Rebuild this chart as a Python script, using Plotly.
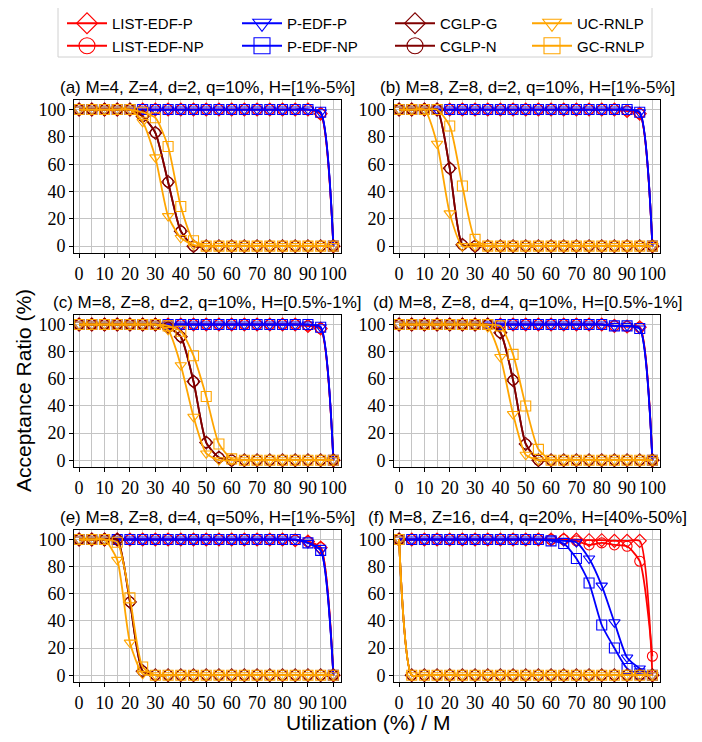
import plotly.graph_objects as go

# ---------------- data ----------------
utilization = [0, 5, 10, 15, 20, 25, 30, 35, 40, 45, 50, 55, 60, 65, 70, 75, 80, 85, 90, 95, 100]
x_tick_vals = [0, 10, 20, 30, 40, 50, 60, 70, 80, 90, 100]
x_tick_text = ["0", "10", "20", "30", "40", "50", "60", "70", "80", "90", "100"]
y_tick_vals = [0, 20, 40, 60, 80, 100]
y_tick_text = ["0", "20", "40", "60", "80", "100"]

series_names = ["LIST-EDF-P", "LIST-EDF-NP", "P-EDF-P", "P-EDF-NP", "CGLP-G", "CGLP-N", "UC-RNLP", "GC-RNLP"]

subplot_titles = [
    "(a) M=4, Z=4, d=2, q=10%, H=[1%-5%]",
    "(b) M=8, Z=8, d=2, q=10%, H=[1%-5%]",
    "(c) M=8, Z=8, d=2, q=10%, H=[0.5%-1%]",
    "(d) M=8, Z=8, d=4, q=10%, H=[0.5%-1%]",
    "(e) M=8, Z=8, d=4, q=50%, H=[1%-5%]",
    "(f) M=8, Z=16, d=4, q=20%, H=[40%-50%]",
]

# (a)
list_edf_p_a = [100, 100, 100, 100, 100, 100, 100, 100, 100, 100, 100, 100, 100, 100, 100, 100, 100, 100, 100, 97, 0]
list_edf_np_a = [100, 100, 100, 100, 100, 100, 100, 100, 100, 100, 100, 100, 100, 100, 100, 100, 100, 100, 100, 97, 0]
p_edf_p_a = [100, 100, 100, 100, 100, 100, 100, 100, 100, 100, 100, 100, 100, 100, 100, 100, 100, 100, 100, 98, 0]
p_edf_np_a = [100, 100, 100, 100, 100, 100, 100, 100, 100, 100, 100, 100, 100, 100, 100, 100, 100, 100, 100, 98, 0]
cglp_g_a = [100, 100, 100, 100, 100, 95, 83, 47, 11, 0, 0, 0, 0, 0, 0, 0, 0, 0, 0, 0, 0]
cglp_n_a = [100, 100, 100, 100, 100, 95, 83, 47, 11, 0, 0, 0, 0, 0, 0, 0, 0, 0, 0, 0, 0]
uc_rnlp_a = [100, 100, 100, 100, 100, 91, 65, 22, 6, 1, 0, 0, 0, 0, 0, 0, 0, 0, 0, 0, 0]
gc_rnlp_a = [100, 100, 100, 100, 100, 98, 94, 73, 29, 4, 0, 0, 0, 0, 0, 0, 0, 0, 0, 0, 0]

# (b)
list_edf_p_b = [100, 100, 100, 100, 100, 100, 100, 100, 100, 100, 100, 100, 100, 100, 100, 100, 100, 100, 99, 97, 0]
list_edf_np_b = [100, 100, 100, 100, 100, 100, 100, 100, 100, 100, 100, 100, 100, 100, 100, 100, 100, 100, 99, 97, 0]
p_edf_p_b = [100, 100, 100, 100, 100, 100, 100, 100, 100, 100, 100, 100, 100, 100, 100, 100, 100, 100, 100, 98, 0]
p_edf_np_b = [100, 100, 100, 100, 100, 100, 100, 100, 100, 100, 100, 100, 100, 100, 100, 100, 100, 100, 100, 98, 0]
cglp_g_b = [100, 100, 100, 100, 57, 1, 0, 0, 0, 0, 0, 0, 0, 0, 0, 0, 0, 0, 0, 0, 0]
cglp_n_b = [100, 100, 100, 100, 57, 1, 0, 0, 0, 0, 0, 0, 0, 0, 0, 0, 0, 0, 0, 0, 0]
uc_rnlp_b = [100, 100, 100, 75, 24, 0, 0, 0, 0, 0, 0, 0, 0, 0, 0, 0, 0, 0, 0, 0, 0]
gc_rnlp_b = [100, 100, 100, 100, 88, 44, 5, 0, 0, 0, 0, 0, 0, 0, 0, 0, 0, 0, 0, 0, 0]

# (c)
list_edf_p_c = [100, 100, 100, 100, 100, 100, 100, 100, 100, 100, 100, 100, 100, 100, 100, 100, 100, 100, 99, 97, 0]
list_edf_np_c = [100, 100, 100, 100, 100, 100, 100, 100, 100, 100, 100, 100, 100, 100, 100, 100, 100, 100, 99, 97, 0]
p_edf_p_c = [100, 100, 100, 100, 100, 100, 100, 100, 100, 100, 100, 100, 100, 100, 100, 100, 100, 100, 100, 98, 0]
p_edf_np_c = [100, 100, 100, 100, 100, 100, 100, 100, 100, 100, 100, 100, 100, 100, 100, 100, 100, 100, 100, 98, 0]
cglp_g_c = [100, 100, 100, 100, 100, 100, 100, 98, 91, 58, 13, 2, 0, 0, 0, 0, 0, 0, 0, 0, 0]
cglp_n_c = [100, 100, 100, 100, 100, 100, 100, 98, 91, 58, 13, 2, 0, 0, 0, 0, 0, 0, 0, 0, 0]
uc_rnlp_c = [100, 100, 100, 100, 100, 100, 100, 96, 70, 32, 5, 0, 0, 0, 0, 0, 0, 0, 0, 0, 0]
gc_rnlp_c = [100, 100, 100, 100, 100, 100, 100, 99, 95, 77, 47, 12, 1, 0, 0, 0, 0, 0, 0, 0, 0]

# (d)
list_edf_p_d = [100, 100, 100, 100, 100, 100, 100, 100, 100, 100, 100, 100, 100, 100, 100, 100, 100, 99, 98.5, 98, 0]
list_edf_np_d = [100, 100, 100, 100, 100, 100, 100, 100, 100, 100, 100, 100, 100, 100, 100, 100, 100, 99, 98.5, 98, 0]
p_edf_p_d = [100, 100, 100, 100, 100, 100, 100, 100, 100, 100, 100, 100, 100, 100, 100, 100, 100, 99, 99, 97, 0]
p_edf_np_d = [100, 100, 100, 100, 100, 100, 100, 100, 100, 100, 100, 100, 100, 100, 100, 100, 100, 99, 99, 97, 0]
cglp_g_d = [100, 100, 100, 100, 100, 100, 100, 100, 94, 59, 12, 0, 0, 0, 0, 0, 0, 0, 0, 0, 0]
cglp_n_d = [100, 100, 100, 100, 100, 100, 100, 100, 94, 59, 12, 0, 0, 0, 0, 0, 0, 0, 0, 0, 0]
uc_rnlp_d = [100, 100, 100, 100, 100, 100, 100, 98, 76, 34, 4, 0, 0, 0, 0, 0, 0, 0, 0, 0, 0]
gc_rnlp_d = [100, 100, 100, 100, 100, 100, 100, 100, 99, 78, 40, 8, 0, 0, 0, 0, 0, 0, 0, 0, 0]

# (e)
list_edf_p_e = [100, 100, 100, 100, 100, 100, 100, 100, 100, 100, 100, 100, 100, 100, 100, 100, 100, 99.5, 98.5, 94, 0]
list_edf_np_e = [100, 100, 100, 100, 100, 100, 100, 100, 100, 100, 100, 100, 100, 100, 100, 100, 100, 99.5, 98.5, 94, 0]
p_edf_p_e = [100, 100, 100, 100, 100, 100, 100, 100, 100, 100, 100, 100, 100, 100, 100, 100, 100, 100, 97.5, 92, 0]
p_edf_np_e = [100, 100, 100, 100, 100, 100, 100, 100, 100, 100, 100, 100, 100, 100, 100, 100, 100, 100, 97.5, 92, 0]
cglp_g_e = [100, 100, 100, 100, 54, 3, 0, 0, 0, 0, 0, 0, 0, 0, 0, 0, 0, 0, 0, 0, 0]
cglp_n_e = [100, 100, 100, 100, 54, 3, 0, 0, 0, 0, 0, 0, 0, 0, 0, 0, 0, 0, 0, 0, 0]
uc_rnlp_e = [100, 100, 100, 85, 24, 1, 0, 0, 0, 0, 0, 0, 0, 0, 0, 0, 0, 0, 0, 0, 0]
gc_rnlp_e = [100, 100, 100, 98, 57, 6, 0, 0, 0, 0, 0, 0, 0, 0, 0, 0, 0, 0, 0, 0, 0]

# (f)
list_edf_p_f = [100, 100, 100, 100, 100, 100, 100, 100, 100, 100, 100, 100, 100, 100, 100, 99.5, 99.5, 99, 99, 99, 0]
list_edf_np_f = [100, 100, 100, 100, 100, 100, 100, 100, 100, 100, 100, 100, 100, 100, 99, 96, 97.5, 96, 95, 84, 14]
p_edf_p_f = [100, 100, 100, 100, 100, 100, 100, 100, 100, 100, 100, 100, 100, 99, 98, 86, 66, 39, 13, 5, 0]
p_edf_np_f = [100, 100, 100, 100, 100, 100, 100, 100, 100, 100, 100, 100, 99, 97, 86, 68, 37, 20, 5, 1, 0]
cglp_g_f = [100, 0, 0, 0, 0, 0, 0, 0, 0, 0, 0, 0, 0, 0, 0, 0, 0, 0, 0, 0, 0]
cglp_n_f = [100, 0, 0, 0, 0, 0, 0, 0, 0, 0, 0, 0, 0, 0, 0, 0, 0, 0, 0, 0, 0]
uc_rnlp_f = [100, 0, 0, 0, 0, 0, 0, 0, 0, 0, 0, 0, 0, 0, 0, 0, 0, 0, 0, 0, 0]
gc_rnlp_f = [100, 0, 0, 0, 0, 0, 0, 0, 0, 0, 0, 0, 0, 0, 0, 0, 0, 0, 0, 0, 0]

panels = [
    [list_edf_p_a, list_edf_np_a, p_edf_p_a, p_edf_np_a, cglp_g_a, cglp_n_a, uc_rnlp_a, gc_rnlp_a],
    [list_edf_p_b, list_edf_np_b, p_edf_p_b, p_edf_np_b, cglp_g_b, cglp_n_b, uc_rnlp_b, gc_rnlp_b],
    [list_edf_p_c, list_edf_np_c, p_edf_p_c, p_edf_np_c, cglp_g_c, cglp_n_c, uc_rnlp_c, gc_rnlp_c],
    [list_edf_p_d, list_edf_np_d, p_edf_p_d, p_edf_np_d, cglp_g_d, cglp_n_d, uc_rnlp_d, gc_rnlp_d],
    [list_edf_p_e, list_edf_np_e, p_edf_p_e, p_edf_np_e, cglp_g_e, cglp_n_e, uc_rnlp_e, gc_rnlp_e],
    [list_edf_p_f, list_edf_np_f, p_edf_p_f, p_edf_np_f, cglp_g_f, cglp_n_f, uc_rnlp_f, gc_rnlp_f],
]

# ---------------- styles ----------------
colors = ["#ff0000", "#ff0000", "#0000ff", "#0000ff", "#800000", "#800000", "#ffa500", "#ffa500"]
symbols = ["diamond-open", "circle-open", "triangle-down-open", "square-open",
           "diamond-open", "circle-open", "triangle-down-open", "square-open"]
marker_sizes = [10, 10, 10, 10, 10, 10, 10, 10]
legend_ids = ["legend", "legend", "legend2", "legend2", "legend3", "legend3", "legend4", "legend4"]

# The page body has an 8px margin: the figure is drawn at page (8, 8).
OFF = 8
W, H = 702 - OFF, 742 - OFF


def px(x):
    return (x - OFF) / W


def py(y):
    return 1 - (y - OFF) / H


col_dom = [[px(74), px(341)], [px(394), px(660)]]
row_dom = [[py(253), py(100)], [py(467), py(315)], [py(682), py(530)]]
legend_marker_x = [82, 257, 410, 547]

TICK_FONT = dict(family="Liberation Serif", size=18, color="black")
SANS = "Liberation Sans"
GRID = "#c4c4c4"

fig = go.Figure()

for p, data in enumerate(panels):
    xa = "x" if p == 0 else f"x{p + 1}"
    ya = "y" if p == 0 else f"y{p + 1}"
    for k, name in enumerate(series_names):
        fig.add_trace(go.Scatter(
            x=utilization, y=data[k], name=name, xaxis=xa, yaxis=ya,
            mode="lines+markers", showlegend=False,
            line=dict(color=colors[k], width=1.8, shape="spline", smoothing=0.6),
            marker=dict(symbol=symbols[k], size=marker_sizes[k], color=colors[k],
                        line=dict(color=colors[k], width=1.1)),
        ))

# legend entries (4 columns x 2 rows)
for k, name in enumerate(series_names):
    fig.add_trace(go.Scatter(
        x=[None], y=[None], name=name, mode="lines+markers", legend=legend_ids[k],
        line=dict(color=colors[k], width=1.8),
        marker=dict(symbol=symbols[k], size=16, color=colors[k], line=dict(color=colors[k], width=1.1)),
    ))

layout = dict(
    width=W, height=H, margin=dict(l=0, r=0, t=0, b=0, autoexpand=False),
    paper_bgcolor="white", plot_bgcolor="white",
    showlegend=True,
)
for j, lid in enumerate(["legend", "legend2", "legend3", "legend4"]):
    layout[lid] = dict(
        orientation="v", x=px(legend_marker_x[j] - 20), y=py(7),
        xanchor="left", yanchor="top", borderwidth=0, bgcolor="rgba(0,0,0,0)",
        font=dict(family=SANS, size=15, color="black"), itemwidth=40,
        tracegroupgap=0, traceorder="normal",
    )

annotations = []
for p in range(6):
    r, c = divmod(p, 2)
    xkey = "xaxis" if p == 0 else f"xaxis{p + 1}"
    ykey = "yaxis" if p == 0 else f"yaxis{p + 1}"
    ya = "y" if p == 0 else f"y{p + 1}"
    xa = "x" if p == 0 else f"x{p + 1}"
    layout[xkey] = dict(
        domain=col_dom[c], anchor=ya, range=[-2, 103],
        tickmode="array", tickvals=x_tick_vals, ticktext=x_tick_text, tickangle=0,
        ticks="outside", ticklen=4, tickcolor="black", tickfont=TICK_FONT,
        showline=True, mirror=True, linecolor="black", linewidth=1,
        showgrid=True, gridcolor=GRID, gridwidth=1, zeroline=False,
        minor=dict(tick0=0, dtick=5, showgrid=True, gridcolor=GRID, gridwidth=1),
    )
    layout[ykey] = dict(
        domain=row_dom[r], anchor=xa, range=[-5, 107],
        tickmode="array", tickvals=y_tick_vals, ticktext=y_tick_text,
        ticks="outside", ticklen=4, tickcolor="black", tickfont=TICK_FONT,
        showline=True, mirror=True, linecolor="black", linewidth=1,
        showgrid=True, gridcolor=GRID, gridwidth=1, zeroline=False,
    )
    annotations.append(dict(
        text=subplot_titles[p], xref="paper", yref="paper",
        x=(col_dom[c][0] + col_dom[c][1]) / 2, y=row_dom[r][1],
        xanchor="center", yanchor="bottom", yshift=1, showarrow=False,
        font=dict(family=SANS, size=17, color="black"),
    ))

annotations.append(dict(
    text="Acceptance Ratio (%)", xref="paper", yref="paper",
    x=px(23), y=py(391), xanchor="center", yanchor="middle", textangle=-90,
    showarrow=False, font=dict(family=SANS, size=21, color="black"),
))
annotations.append(dict(
    text="Utilization (%) / M", xref="paper", yref="paper",
    x=px(368), y=py(722), xanchor="center", yanchor="middle",
    showarrow=False, font=dict(family=SANS, size=21, color="black"),
))
layout["annotations"] = annotations
layout["shapes"] = [dict(
    type="rect", xref="paper", yref="paper",
    x0=px(58), x1=px(652), y0=py(57), y1=py(7),
    line=dict(color="#d0d0d0", width=1), layer="below",
)]

fig.update_layout(**layout)
fig.write_html("out.html")
